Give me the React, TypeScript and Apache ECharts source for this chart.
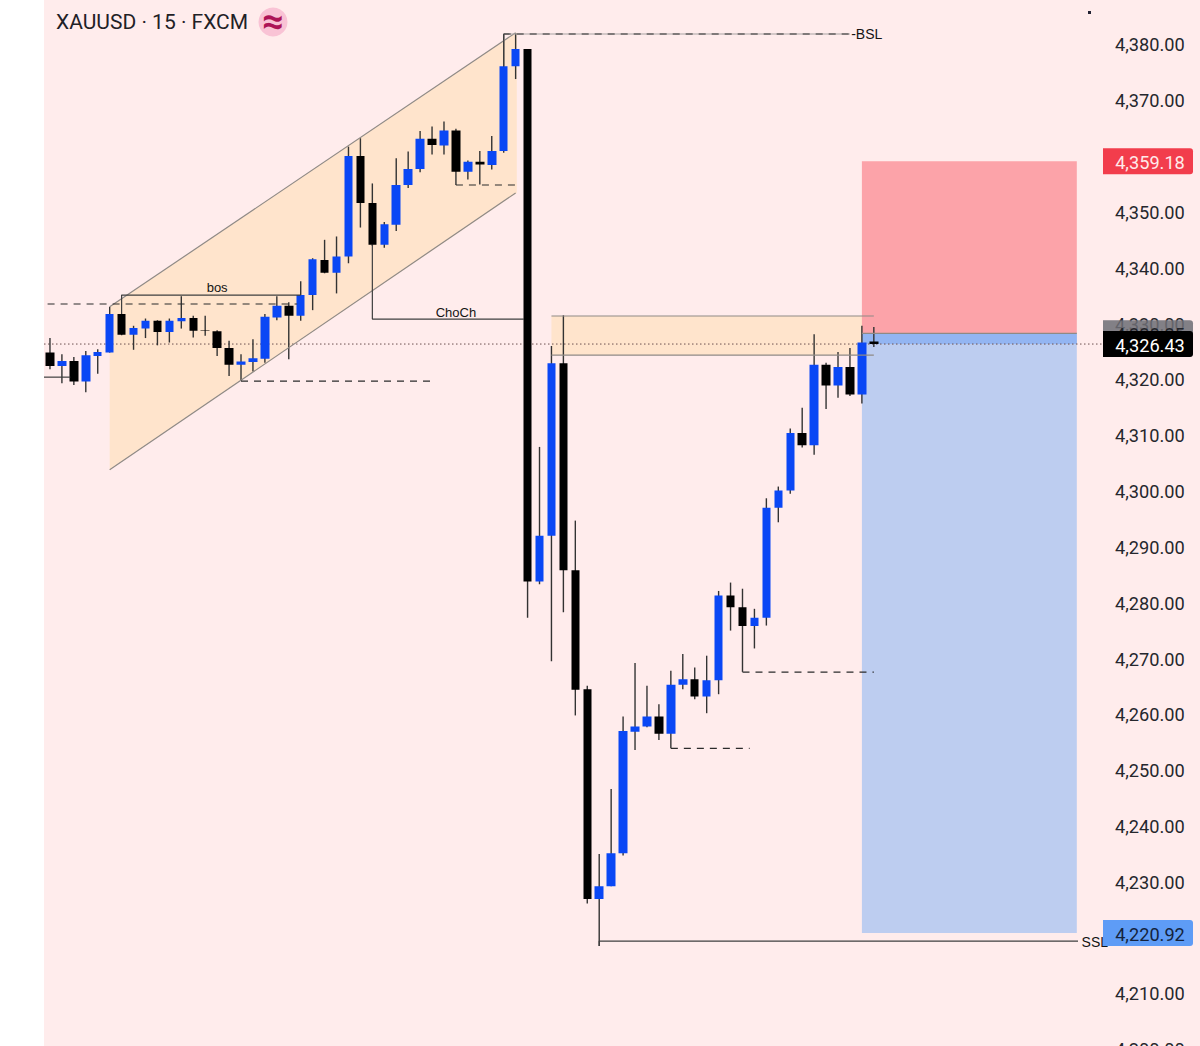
import React, { useEffect, useRef } from "react";
import * as echarts from "echarts";

const opens = [
  4324.9, 4322.5, 4323.4, 4319.7, 4324.3, 4324.9, 4331.8, 4328.1, 4329.2, 4330.6,
  4328.6, 4330.5, 4331.1, 4328.9, 4328.7, 4325.7, 4322.7, 4323.2, 4323.8, 4331.2,
  4333.3, 4331.5, 4335.2, 4341.5, 4339.2, 4342.1, 4360.1, 4351.7, 4344.2, 4347.8,
  4354.9, 4357.8, 4363.2, 4362.0, 4364.7, 4357.3, 4359.1, 4358.5, 4361.0, 4376.2,
  4379.3, 4283.9, 4292.1, 4323.0, 4285.9, 4264.6, 4227.0, 4229.3, 4235.2, 4257.0,
  4257.9, 4259.7, 4256.6, 4265.4, 4266.4, 4263.3, 4266.2, 4281.4, 4279.3, 4275.9,
  4277.4, 4297.1, 4300.2, 4310.5, 4308.3, 4322.7, 4319.0, 4322.3, 4317.4, 4326.9,
];
const closes = [
  4322.5, 4323.4, 4319.7, 4324.4, 4325.0, 4331.8, 4328.1, 4329.3, 4330.6, 4328.6,
  4330.6, 4331.1, 4328.8, 4328.8, 4325.7, 4322.7, 4323.3, 4323.9, 4331.3, 4333.3,
  4331.5, 4335.2, 4341.6, 4339.2, 4342.1, 4360.1, 4351.7, 4344.2, 4347.9, 4354.9,
  4357.8, 4363.2, 4362.1, 4364.7, 4357.3, 4359.1, 4358.6, 4361.0, 4376.2, 4379.3,
  4283.9, 4292.1, 4323.0, 4285.9, 4264.5, 4227.0, 4229.3, 4235.2, 4257.1, 4257.9,
  4259.7, 4256.6, 4265.4, 4266.4, 4263.3, 4266.2, 4281.4, 4279.3, 4275.9, 4277.4,
  4297.1, 4300.2, 4310.5, 4308.3, 4322.7, 4319.0, 4322.3, 4317.4, 4326.7, 4326.43,
];
const lows = [
  4321.9, 4319.4, 4319.1, 4317.8, 4321.1, 4324.9, 4328.0, 4325.4, 4327.5, 4326.2,
  4326.7, 4329.2, 4327.6, 4327.9, 4324.3, 4320.7, 4319.8, 4321.5, 4323.1, 4330.7,
  4323.7, 4330.6, 4332.5, 4339.1, 4335.5, 4340.9, 4347.3, 4344.0, 4343.7, 4346.7,
  4354.4, 4357.2, 4360.4, 4360.4, 4354.9, 4355.9, 4355.0, 4357.7, 4360.7, 4373.9,
  4277.4, 4283.4, 4269.6, 4278.4, 4259.9, 4226.2, 4218.6, 4229.3, 4234.8, 4253.7,
  4257.8, 4255.5, 4254.0, 4264.6, 4262.8, 4260.3, 4263.7, 4275.1, 4267.7, 4271.9,
  4276.0, 4294.5, 4299.6, 4307.9, 4306.6, 4314.8, 4316.8, 4317.1, 4315.8, 4325.9,
];
const highs = [
  4327.5, 4324.6, 4324.1, 4325.2, 4325.5, 4333.1, 4331.8, 4329.7, 4331.0, 4330.7,
  4331.0, 4335.0, 4331.5, 4331.5, 4328.9, 4327.0, 4324.6, 4327.3, 4331.8, 4335.0,
  4333.9, 4337.7, 4341.8, 4345.1, 4345.7, 4361.8, 4363.3, 4355.2, 4348.3, 4359.7,
  4360.9, 4364.6, 4365.4, 4366.3, 4365.0, 4359.3, 4361.0, 4363.7, 4382.0, 4382.1,
  4379.3, 4308.0, 4326.1, 4331.6, 4294.8, 4265.2, 4235.1, 4246.7, 4259.7, 4269.3,
  4265.2, 4261.9, 4267.9, 4270.9, 4268.5, 4270.6, 4282.2, 4283.7, 4282.6, 4279.0,
  4298.8, 4300.9, 4311.3, 4315.0, 4328.2, 4323.1, 4325.0, 4325.7, 4329.7, 4329.5,
];

const lastPrice = 4326.43;
const stopPrice = 4359.18;
const entryPrice = 4328.35;
const targetPrice = 4220.92;

// tick labels that sit fully behind a price tag in the original
const hiddenTicks = [4220, 4360];

const BAND_COUNT = 89;
const categories = Array.from({ length: BAND_COUNT }, (_, i) => String(i));

const PINK = "#ffecec";
const ORANGE = "#ffe4cc";
const LINE = "#3f3f3f";
const SOFT_LINE = "#8f8a86";

// x is the candle index, y the price
const fills = [
  {
    color: ORANGE,
    points: [[5, 4333.1], [39, 4382.2], [39.1, 4382.2], [39.1, 4353.5], [5, 4303.9]],
  },
  {
    color: ORANGE,
    points: [[42, 4331.45], [69, 4331.45], [69, 4324.46], [42, 4324.46]],
  },
  {
    color: "#fca3a9",
    points: [[68, stopPrice], [86, stopPrice], [86, entryPrice], [68, entryPrice]],
  },
  {
    color: "#bdcdf0",
    points: [[68, entryPrice], [86, entryPrice], [86, targetPrice], [68, targetPrice]],
  },
  {
    color: "#93b5f2",
    points: [[68, entryPrice], [86, entryPrice], [86, lastPrice], [68, lastPrice]],
  },
];

const solidLines = [
  { color: SOFT_LINE, points: [[5, 4333.1], [39, 4382.2]] },
  { color: SOFT_LINE, points: [[5, 4303.9], [39, 4353.5]] },
  { color: SOFT_LINE, points: [[42, 4331.45], [69, 4331.45]] },
  { color: SOFT_LINE, points: [[42, 4324.46], [69, 4324.46]] },
  { color: SOFT_LINE, points: [[68, entryPrice], [86, entryPrice]] },
  { color: LINE, points: [[6, 4331.8], [6, 4335.2], [21, 4335.2]] },
  { color: LINE, points: [[-0.5, 4320.5], [1.7, 4320.5]] },
  { color: LINE, points: [[27, 4344.2], [27, 4330.9], [39.7, 4330.9]] },
  { color: LINE, points: [[38, 4376.2], [38, 4381.97]] },
  { color: "#a9a4a4", points: [[38, 4381.97], [67, 4381.97]] },
  { color: LINE, points: [[46, 4218.6], [46, 4219.48], [86.1, 4219.48]] },
];

const dashedLines = [
  [[-0.2, 4333.6], [20.7, 4333.6]],
  [[16, 4319.8], [32, 4319.8]],
  [[34, 4354.92], [39.1, 4354.92]],
  [[38, 4381.97], [67, 4381.97]],
  [[52, 4254.0], [58.6, 4254.0]],
  [[58, 4267.67], [69, 4267.67]],
];

const notes = [
  { text: "bos", x: 14, y: 4336.5, align: "center", size: 13 },
  { text: "ChoCh", x: 34, y: 4332.0, align: "center", size: 13 },
  { text: "-BSL", x: 67.1, y: 4381.97, align: "left", size: 14 },
  { text: "SSL", x: 86.4, y: 4219.4, align: "left", size: 14 },
];

const priceTags = [
  { price: stopPrice, fill: "#f23d4c", color: "#ffeaea" },
  { price: targetPrice, fill: "#5e9cf6", color: "#14233c" },
  { price: entryPrice, fill: "rgba(110,110,116,0.86)", color: "#22242a" },
  { price: lastPrice, fill: "#000000", color: "#ffffff" },
];

const formatPrice = (v: number) =>
  v.toLocaleString("en-US", { minimumFractionDigits: 2, maximumFractionDigits: 2 });

const App: React.FC = () => {
  const chartRef = useRef<HTMLDivElement>(null);

  useEffect(() => {
    if (!chartRef.current) return;

    const myChart = echarts.init(chartRef.current, undefined, { renderer: "svg" });

    const fillSeries = fills.map((f) => ({
      type: "custom",
      xAxisIndex: 1,
      z: 1,
      silent: true,
      data: [[0, 4300]],
      renderItem: (_p: any, api: any) => ({
        type: "polygon",
        shape: { points: f.points.map((pt) => api.coord(pt)) },
        style: { fill: f.color },
      }),
    }));

    const lineBase = {
      type: "line",
      xAxisIndex: 1,
      z: 5,
      silent: true,
      showSymbol: false,
      symbol: "none",
    };

    const solidSeries = solidLines.map((l) => ({
      ...lineBase,
      data: l.points,
      lineStyle: { color: l.color, width: 1.2 },
    }));

    const dashedSeries = dashedLines.map((points) => ({
      ...lineBase,
      data: points,
      lineStyle: { color: "#2b2b2b", width: 1.2, type: [7, 6] },
    }));

    const option = {
      animation: false,
      backgroundColor: PINK,
      textStyle: { fontFamily: "Roboto" },
      title: {
        text: "XAUUSD · 15 · FXCM",
        left: 56,
        top: 11,
        padding: 0,
        textStyle: { fontFamily: "Roboto", fontWeight: "normal", fontSize: 21, color: "#1f2126" },
      },
      graphic: [
        { type: "rect", shape: { x: 0, y: 0, width: 44, height: 1050 }, style: { fill: "#ffffff" } },
        { type: "circle", shape: { cx: 273, cy: 22, r: 14.5 }, style: { fill: "#f9c3d5" } },
        {
          type: "text",
          x: 273,
          y: 21,
          style: {
            text: "≈",
            fill: "#ad1457",
            font: "bold 38px Roboto",
            textAlign: "center",
            textVerticalAlign: "middle",
          },
        },
        { type: "rect", shape: { x: 1088, y: 11, width: 3, height: 3 }, style: { fill: "#222233" } },
      ],
      grid: { left: 44, top: 0, width: 1062.66, height: 1049.82, outerBoundsMode: "none" },
      xAxis: [
        { type: "category", data: categories, show: false },
        { type: "value", min: -0.5, max: BAND_COUNT - 0.5, show: false },
      ],
      yAxis: {
        type: "value",
        position: "right",
        min: 4200,
        max: 4388.06,
        interval: 10,
        axisLine: { show: false },
        axisTick: { show: false },
        splitLine: { show: false },
        axisLabel: {
          margin: 8.3,
          padding: [2, 0, 0, 0],
          fontFamily: "Roboto",
          fontSize: 18.2,
          color: "#25272d",
          showMaxLabel: false,
          formatter: (v: number) =>
            v % 10 !== 0 || hiddenTicks.includes(v) ? "" : formatPrice(v),
        },
      },
      series: [
        ...fillSeries,
        {
          ...lineBase,
          z: 1.5,
          data: [[-0.5, lastPrice], [88.2, lastPrice]],
          lineStyle: { color: "#6b4f50", width: 1, type: [1.5, 2.5] },
        },
        {
          type: "custom",
          xAxisIndex: 1,
          z: 2,
          silent: true,
          data: lows.map((low, i) => [i, low, highs[i]]),
          renderItem: (_p: any, api: any) => {
            const i = api.value(0);
            const from = api.coord([i, api.value(1)]);
            const to = api.coord([i, api.value(2)]);
            return {
              type: "line",
              shape: { x1: from[0], y1: from[1], x2: to[0], y2: to[1] },
              style: { stroke: "#333333", lineWidth: 1.4 },
            };
          },
        },
        {
          type: "candlestick",
          xAxisIndex: 0,
          z: 3,
          barWidth: 9,
          silent: true,
          data: opens.map((o, i) => [o, closes[i], lows[i], highs[i]]),
          itemStyle: { color: "#0a47f5", color0: "#000000", borderWidth: 0 },
        },
        ...solidSeries,
        ...dashedSeries,
        {
          type: "custom",
          xAxisIndex: 1,
          z: 6,
          silent: true,
          data: notes.map((n) => [n.x, n.y]),
          renderItem: (p: any, api: any) => {
            const n = notes[p.dataIndex];
            const pos = api.coord([n.x, n.y]);
            return {
              type: "text",
              x: pos[0],
              y: pos[1],
              style: {
                text: n.text,
                fill: "#141414",
                font: `${n.size}px 'Liberation Sans'`,
                textAlign: n.align,
                textVerticalAlign: "middle",
              },
            };
          },
        },
        {
          type: "custom",
          xAxisIndex: 1,
          z: 7,
          silent: true,
          data: priceTags.map((t) => [80, t.price]),
          renderItem: (p: any, api: any) => {
            const t = priceTags[p.dataIndex];
            const y = api.coord([80, t.price])[1];
            return {
              type: "group",
              children: [
                {
                  type: "rect",
                  shape: { x: 1103, y: y - 13, width: 90, height: 26, r: [0, 3, 3, 0] },
                  style: { fill: t.fill },
                },
                {
                  type: "text",
                  x: 1150,
                  y: y + 1,
                  style: {
                    text: formatPrice(t.price),
                    fill: t.color,
                    font: "18.2px Roboto",
                    textAlign: "center",
                    textVerticalAlign: "middle",
                  },
                },
              ],
            };
          },
        },
      ],
    };

    myChart.setOption(option as any);

    return () => {
      myChart.dispose();
    };
  }, []);

  return (
    <div
      ref={chartRef}
      style={{ position: "fixed", left: 0, top: 0, width: 1200, height: 1050 }}
    />
  );
};

export default App;
